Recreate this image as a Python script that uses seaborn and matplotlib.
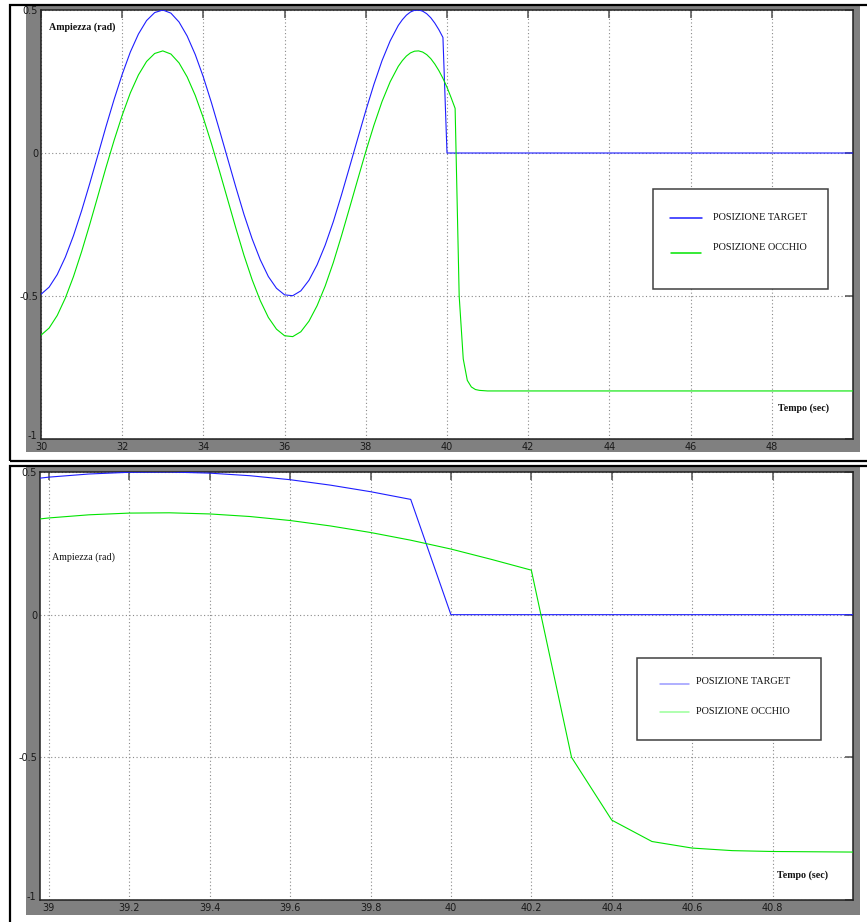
import matplotlib
matplotlib.use("Agg")
import matplotlib.pyplot as plt
from matplotlib.patches import Rectangle
from matplotlib.lines import Line2D
from matplotlib.transforms import ScaledTranslation
import pandas as pd
import seaborn as sns

# Simulation output (sample time 0.2 s, then 0.1 s around the step at 40 s)
time_s = [30.0, 30.2, 30.4, 30.6, 30.8, 31.0, 31.2, 31.4, 31.6, 31.8,
          32.0, 32.2, 32.4, 32.6, 32.8, 33.0, 33.2, 33.4, 33.6, 33.8,
          34.0, 34.2, 34.4, 34.6, 34.8, 35.0, 35.2, 35.4, 35.6, 35.8,
          36.0, 36.2, 36.4, 36.6, 36.8, 37.0, 37.2, 37.4, 37.6, 37.8,
          38.0, 38.2, 38.4, 38.6, 38.8,
          38.9, 39.0, 39.1, 39.2, 39.3, 39.4, 39.5, 39.6, 39.7, 39.8, 39.9,
          40.0, 40.1, 40.2, 40.3, 40.4, 40.5, 40.6, 40.7, 40.8, 40.9, 41.0,
          50.0]

target_rad = [-0.494, -0.469, -0.425, -0.364, -0.289, -0.202, -0.107, -0.008, 0.092, 0.187,
              0.275, 0.353, 0.416, 0.463, 0.491, 0.500, 0.489, 0.458, 0.409, 0.344,
              0.265, 0.175, 0.078, -0.021, -0.120, -0.215, -0.300, -0.373, -0.432, -0.473,
              -0.496, -0.499, -0.482, -0.445, -0.391, -0.322, -0.240, -0.147, -0.049, 0.050,
              0.148, 0.240, 0.323, 0.392, 0.446,
              0.466, 0.482, 0.493, 0.499, 0.500, 0.496, 0.487, 0.473, 0.454, 0.431, 0.404,
              0.0, 0.0, 0.0, 0.0, 0.0, 0.0, 0.0, 0.0, 0.0, 0.0, 0.0,
              0.0]

eye_rad = [-0.637, -0.612, -0.568, -0.507, -0.432, -0.345, -0.250, -0.151, -0.051, 0.044,
           0.132, 0.210, 0.273, 0.320, 0.348, 0.357, 0.346, 0.315, 0.266, 0.201,
           0.122, 0.032, -0.065, -0.164, -0.263, -0.358, -0.443, -0.516, -0.575, -0.616,
           -0.639, -0.642, -0.625, -0.588, -0.534, -0.465, -0.383, -0.290, -0.192, -0.093,
           0.005, 0.097, 0.180, 0.249, 0.303,
           0.323, 0.339, 0.350, 0.356, 0.357, 0.353, 0.344, 0.330, 0.311, 0.288, 0.261,
           0.230, 0.194, 0.156, -0.500, -0.720, -0.795, -0.818, -0.827, -0.830, -0.831, -0.832,
           -0.832]

series_labels = ["POSIZIONE TARGET", "POSIZIONE OCCHIO"]
y_label = "Ampiezza (rad)"
x_label = "Tempo (sec)"

top_xticks = [30, 32, 34, 36, 38, 40, 42, 44, 46, 48]
top_xticklabels = ["30", "32", "34", "36", "38", "40", "42", "44", "46", "48"]
zoom_xticks = [39.0, 39.2, 39.4, 39.6, 39.8, 40.0, 40.2, 40.4, 40.6, 40.8]
zoom_xticklabels = ["39", "39.2", "39.4", "39.6", "39.8", "40", "40.2", "40.4", "40.6", "40.8"]
yticks = [-1.0, -0.5, 0.0, 0.5]
yticklabels = ["-1", "-0.5", "0", "0.5"]

df = pd.DataFrame({"t": time_s, "target": target_rad, "eye": eye_rad})

BLUE = "#1e1eff"
GREEN = "#00e400"
GRAY = "#808080"

W, H = 867, 922
sns.set_style("white")
plt.rcParams["axes.unicode_minus"] = False
plt.rcParams["font.family"] = ["Liberation Sans Narrow", "DejaVu Sans"]
SERIF = ["Liberation Serif", "DejaVu Serif"]

fig = plt.figure(figsize=(W / 100, H / 100), dpi=100)
fig.patch.set_facecolor("white")


def fx(x):
    return x / W


def fy(y):
    return 1 - y / H


def fig_rect(x0, y0, x1, y1, zorder, **kw):
    r = Rectangle((fx(x0), fy(y1)), (x1 - x0) / W, (y1 - y0) / H,
                  transform=fig.transFigure, zorder=zorder, **kw)
    fig.add_artist(r)


def scope_panel(frame, gray, axbox, xlim, xticks, xticklabels):
    fig_rect(*gray, zorder=-3, facecolor=GRAY, edgecolor="none")
    fig_rect(*frame, zorder=-2, facecolor="none", edgecolor="black", linewidth=1.6)
    x0, y0, x1, y1 = axbox
    ax = fig.add_axes([fx(x0), fy(y1), (x1 - x0) / W, (y1 - y0) / H])
    ax.set_zorder(1)
    ax.set_facecolor("white")
    sns.lineplot(data=df, x="t", y="target", ax=ax, color=BLUE, linewidth=0.8,
                 estimator=None, sort=False, legend=False, zorder=3)
    sns.lineplot(data=df, x="t", y="eye", ax=ax, color=GREEN, linewidth=0.8,
                 estimator=None, sort=False, legend=False, zorder=3)
    ax.set_xlim(*xlim)
    ax.set_ylim(-1.0, 0.5)
    ax.set_xticks(xticks)
    ax.set_xticklabels(xticklabels)
    ax.set_yticks(yticks)
    ax.set_yticklabels(yticklabels)
    ax.set_xlabel("")
    ax.set_ylabel("")
    ax.grid(True, color="#8a8a8a", linestyle=(0, (1, 2.2)), linewidth=0.8)
    ax.tick_params(direction="in", length=6, width=1.1, color="#505050",
                   top=True, right=True, labelsize=7, labelcolor="#1a1a1a", pad=2)
    for s in ax.spines.values():
        s.set_color("#202020")
        s.set_linewidth(1.1)
    # lowest y label sits a little above the corner, clear of the first x label
    low = ax.get_yticklabels()[0]
    low.set_transform(low.get_transform() + ScaledTranslation(-1 / 100, 4 / 100, fig.dpi_scale_trans))
    return ax


def scope_legend(box, rows):
    bx0, by0, bx1, by1 = box
    fig_rect(bx0, by0, bx1, by1, zorder=5, facecolor="white", edgecolor="#404040",
             linewidth=1.1)
    for (lx0, lx1, ly, tx, ty, color, label) in rows:
        fig.add_artist(Line2D([fx(lx0), fx(lx1)], [fy(ly), fy(ly)], color=color,
                              linewidth=1.1, transform=fig.transFigure, zorder=6))
        fig.text(fx(tx), fy(ty), label, family=SERIF, fontsize=7.4, color="#111111",
                 ha="left", va="center", zorder=6)


# Full time window
ax_top = scope_panel((10, 5, 872, 461), (26, 5, 860, 452), (41, 10, 853, 439),
                     (30.0, 50.0), top_xticks, top_xticklabels)
fig.text(fx(49), fy(27), y_label, family=SERIF, fontsize=7.2, weight="bold",
         color="#111111", ha="left", va="center", zorder=6)
fig.text(fx(778), fy(408), x_label, family=SERIF, fontsize=7.2, weight="bold",
         color="#111111", ha="left", va="center", zorder=6)
scope_legend((653, 189, 828, 289),
             [(670, 702, 218, 713, 217, BLUE, series_labels[0]),
              (671, 701, 253, 713, 247, GREEN, series_labels[1])])

# Detail around the target step at 40 s
ax_zoom = scope_panel((10, 466, 872, 935), (26, 467, 860, 915), (40, 472, 853, 900),
                      (38.978, 41.0), zoom_xticks, zoom_xticklabels)
fig.text(fx(52), fy(557), y_label, family=SERIF, fontsize=7.2,
         color="#111111", ha="left", va="center", zorder=6)
fig.text(fx(777), fy(875), x_label, family=SERIF, fontsize=7.2, weight="bold",
         color="#111111", ha="left", va="center", zorder=6)
scope_legend((637, 658, 821, 740),
             [(660, 689, 684, 696, 681, "#9a9aff", series_labels[0]),
              (660, 689, 712, 696, 711, "#9aff9a", series_labels[1])])

fig.savefig("out.png", dpi=100, facecolor="white")
